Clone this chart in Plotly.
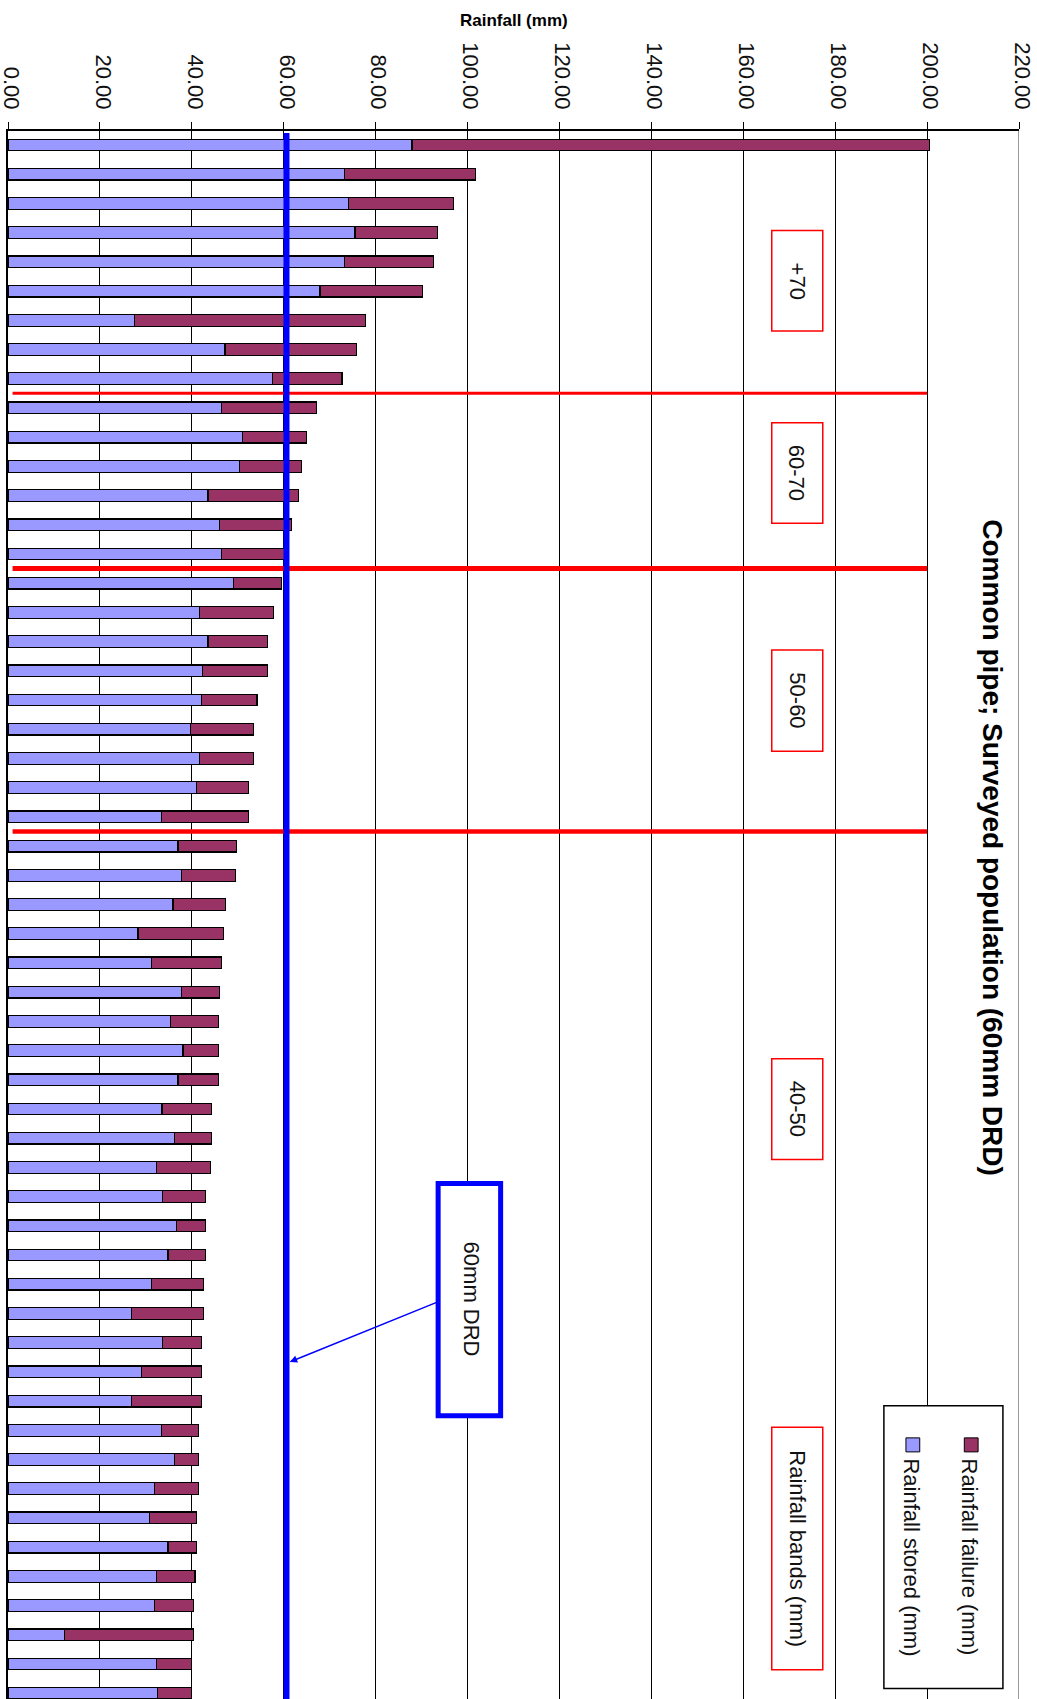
import plotly.graph_objects as go

# ---- data ----
stored = [87.9, 73.3, 74.1, 75.5, 73.3, 67.9, 27.6, 47.2, 57.5,
          46.5, 51.1, 50.4, 43.5, 46.1, 46.4,
          49.0, 41.7, 43.5, 42.4, 42.1, 39.7, 41.7, 41.0, 33.4,
          37.0, 37.7, 35.9, 28.3, 31.2, 37.7, 35.3, 38.1, 37.0, 33.5,
          36.3, 32.3, 33.7, 36.6, 34.8, 31.2, 26.8, 33.7, 29.0, 26.8,
          33.4, 36.3, 31.9, 30.8, 34.8, 32.3, 31.9, 12.3, 32.3, 32.6]
failure = [112.6, 28.4, 22.9, 17.9, 19.3, 22.3, 50.2, 28.7, 15.2,
           20.7, 13.9, 13.5, 19.7, 15.6, 13.7,
           10.6, 16.1, 12.9, 14.0, 12.1, 13.8, 11.8, 11.4, 19.0,
           12.8, 11.8, 11.4, 18.6, 15.3, 8.4, 10.5, 7.7, 8.8, 10.8,
           8.0, 11.7, 9.2, 6.3, 8.1, 11.3, 15.7, 8.4, 13.1, 15.3,
           8.0, 5.1, 9.5, 10.3, 6.3, 8.4, 8.4, 28.0, 7.6, 7.3]
series_names = ["Rainfall stored (mm)", "Rainfall failure (mm)"]
x_ticks = [0, 20, 40, 60, 80, 100, 120, 140, 160, 180, 200, 220]
band_labels = ["+70", "60-70", "50-60", "40-50", "Rainfall bands (mm)"]
band_label_pos = [4.65, 11.23, 19.02, 33.0, 48.05]
band_box_y = [(2.93, 6.37), (9.51, 12.95), (17.29, 20.75), (31.28, 34.73), (43.9, 52.2)]
band_breaks = [8.5, 14.5, 23.5]
band_break_widths = [3, 5, 4.5]
drd = 60

idx = list(range(len(stored)))
C_STORED = "#9999FF"
C_FAIL = "#993366"
FONT = "Liberation Sans, Arial, sans-serif"

fig = go.Figure()
fig.add_trace(go.Bar(y=idx, x=stored, orientation="h", name=series_names[0],
                     marker=dict(color=C_STORED, line=dict(color="#000", width=1.2)),
                     width=0.4, showlegend=False))
fig.add_trace(go.Bar(y=idx, x=failure, orientation="h", name=series_names[1],
                     marker=dict(color=C_FAIL, line=dict(color="#000", width=1.2)),
                     width=0.4, showlegend=False))

shapes = []
# right plot border (grey)
shapes.append(dict(type="line", xref="x", yref="paper", x0=220, x1=220, y0=0, y1=1,
                   line=dict(color="#999999", width=2), layer="above"))
# band separators
for yb, w in zip(band_breaks, band_break_widths):
    shapes.append(dict(type="line", xref="x", yref="y", x0=1, x1=200, y0=yb, y1=yb,
                       line=dict(color="#FF0000", width=w), layer="above"))
# DRD line
shapes.append(dict(type="line", xref="x", yref="y", x0=drd + 0.6, x1=drd + 0.6, y0=-0.41, y1=53.3,
                   line=dict(color="#0000FF", width=6), layer="above"))
# band label boxes
for (y0, y1) in band_box_y:
    shapes.append(dict(type="rect", xref="x", yref="y", x0=166.2, x1=177.3, y0=y0, y1=y1,
                       line=dict(color="#FF0000", width=1.5), fillcolor="white", layer="above"))
# DRD box
shapes.append(dict(type="rect", xref="x", yref="y", x0=93.6, x1=107.2, y0=35.55, y1=43.5,
                   line=dict(color="#0000FF", width=5), fillcolor="white", layer="above"))
# legend box
shapes.append(dict(type="rect", xref="x", yref="y", x0=190.6, x1=216.5, y0=43.16, y1=52.84,
                   line=dict(color="#000000", width=1.5), fillcolor="white", layer="above"))
# legend swatches
for xc, col in [(196.9, C_STORED), (209.6, C_FAIL)]:
    shapes.append(dict(type="rect", xref="x", yref="y", x0=xc - 1.5, x1=xc + 1.5, y0=44.26, y1=44.74,
                       line=dict(color="#000000", width=1), fillcolor=col, layer="above"))

annotations = []
annotations.append(dict(text="<b>Common pipe; Surveyed population (60mm DRD)</b>", xref="x", yref="y",
                        x=214.3, y=24.07, textangle=90, showarrow=False,
                        xanchor="center", yanchor="middle",
                        font=dict(family=FONT, size=28, color="#000")))
annotations.append(dict(text="<b>Rainfall (mm)</b>", xref="x", yref="paper",
                        x=110, y=(1699 - 20.7) / 1568, showarrow=False,
                        xanchor="center", yanchor="middle",
                        font=dict(family=FONT, size=17, color="#000")))
for lab, yc in zip(band_labels, band_label_pos):
    annotations.append(dict(text=lab, xref="x", yref="y", x=171.75, y=yc, textangle=90,
                            xanchor="center", yanchor="middle",
                            showarrow=False, font=dict(family=FONT, size=22, color="#111")))
annotations.append(dict(text="60mm DRD", xref="x", yref="y", x=100.8, y=39.5, textangle=90,
                        xanchor="center", yanchor="middle",
                        showarrow=False, font=dict(family=FONT, size=22, color="#111")))
annotations.append(dict(text="", xref="x", yref="y", x=61.3, y=41.66, ax=93.6, ay=39.6,
                        axref="x", ayref="y", showarrow=True, arrowhead=2, arrowsize=1,
                        arrowwidth=1.5, arrowcolor="#0000FF"))
annotations.append(dict(text=series_names[1], xref="x", yref="y", x=209.3, y=48.35, textangle=90,
                        xanchor="center", yanchor="middle",
                        showarrow=False, font=dict(family=FONT, size=22, color="#111")))
annotations.append(dict(text=series_names[0], xref="x", yref="y", x=196.6, y=48.37, textangle=90,
                        xanchor="center", yanchor="middle",
                        showarrow=False, font=dict(family=FONT, size=22, color="#111")))

fig.update_layout(
    width=1037, height=1699,
    margin=dict(l=8, r=18, t=131, b=0, pad=0, autoexpand=False),
    paper_bgcolor="white", plot_bgcolor="white",
    barmode="stack", bargap=0.6,
    shapes=shapes, annotations=annotations,
    xaxis=dict(range=[0, 220], side="top", tickvals=x_ticks, tickformat=".2f",
               tickangle=90, ticks="outside", ticklen=7, tickcolor="#000", tickwidth=1,
               showgrid=True, gridcolor="#000", gridwidth=1, zeroline=False,
               showline=True, linecolor="#000", linewidth=1.5,
               ticklabelstandoff=5, ticklabelshift=3, ticklabeloverflow="allow",
               tickfont=dict(family=FONT, size=22, color="#111")),
    yaxis=dict(range=[53.2, -0.48], showticklabels=False, showgrid=False, zeroline=False,
               showline=True, linecolor="#000", linewidth=1.5, ticks=""),
)

fig.write_html("out.html", config={"displayModeBar": False},
               post_script=["document.body.style.margin='0px';"])
